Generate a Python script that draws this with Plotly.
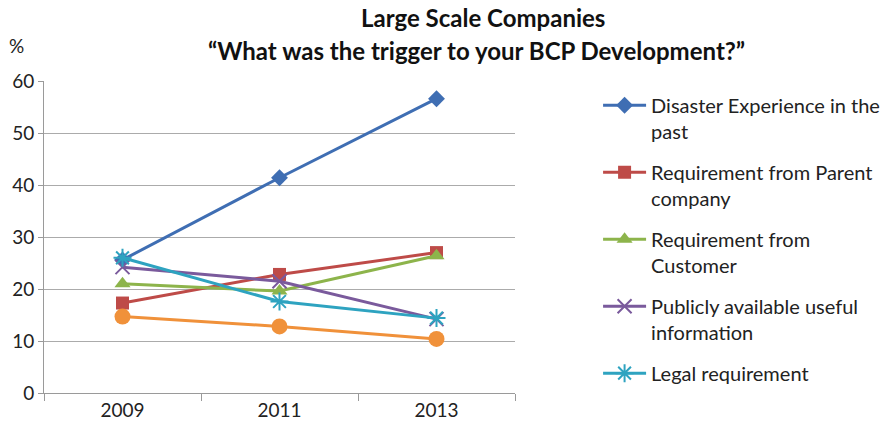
import plotly.graph_objects as go

years = ["2009", "2011", "2013"]

disaster_experience = [25.6, 41.4, 56.6]
parent_company = [17.3, 22.8, 27.0]
customer = [21.0, 19.6, 26.4]
public_information = [24.2, 21.5, 14.2]
legal_requirement = [26.0, 17.6, 14.4]
other_trigger = [14.7, 12.8, 10.4]

title_lines = ["Large Scale Companies", "“What was the trigger to your BCP Development?”"]

series = [
    ("Disaster Experience in the<br>past", disaster_experience, "#3F6EB3", "diamond", 13, True),
    ("Requirement from Parent<br>company", parent_company, "#BE4B48", "square", 13, True),
    ("Requirement from<br>Customer", customer, "#8DB44B", "triangle-up", 14, True),
    ("Publicly available useful<br>information", public_information, "#7A5A9C", "x-thin-open", 14, True),
    ("Legal requirement", legal_requirement, "#2EA3C0", "asterisk-open", 15, True),
    ("Other", other_trigger, "#F0913A", "circle", 16, False),
]

fig = go.Figure()
for i, (name, vals, color, symbol, size, in_legend) in enumerate(series):
    open_sym = symbol.endswith("open")
    fig.add_trace(go.Scatter(
        x=years, y=vals, name=name, mode="lines+markers",
        line=dict(color=color, width=3),
        marker=dict(symbol=symbol, size=size, color=color,
                    line=dict(color=color, width=2 if open_sym else 0)),
        showlegend=in_legend, legendgroup=f"g{i}",
    ))

font_family = "Lato, 'Open Sans', sans-serif"

fig.update_layout(
    width=890, height=435,
    margin=dict(l=42, r=375, t=81, b=42),
    paper_bgcolor="white", plot_bgcolor="white",
    font=dict(family=font_family, size=19, color="#222222"),
    xaxis=dict(
        type="category", showline=True, linecolor="#9A9A9A", linewidth=1,
        ticks="outside", tickson="boundaries", ticklen=7, tickcolor="#9A9A9A",
        showgrid=False, range=[-0.5, 2.5], tickfont=dict(size=19),
    ),
    yaxis=dict(
        range=[0, 60], dtick=10, showline=True, linecolor="#9A9A9A", linewidth=1,
        ticks="outside", ticklen=5, tickcolor="#9A9A9A",
        showgrid=True, gridcolor="#ABABAB", gridwidth=1,
        zeroline=False, tickfont=dict(size=19),
    ),
    legend=dict(
        x=0.672, xref="container", y=0.803, yref="container",
        xanchor="left", yanchor="top", maxheight=420,
        font=dict(size=20), tracegroupgap=12, itemwidth=43, valign="top",
        bgcolor="rgba(0,0,0,0)",
    ),
    annotations=[
        dict(text=f"<b>{title_lines[0]}</b>", x=0.9324, y=1.202, xref="paper", yref="paper",
             xanchor="center", yanchor="middle", showarrow=False,
             font=dict(size=24, color="#111111")),
        dict(text=f"<b>{title_lines[1]}</b>", x=0.9175, y=1.099, xref="paper", yref="paper",
             xanchor="center", yanchor="middle", showarrow=False,
             font=dict(size=24, color="#111111")),
        dict(text="%", x=-0.058, y=1.115, xref="paper", yref="paper",
             xanchor="center", yanchor="middle", showarrow=False, font=dict(size=19)),
    ],
)

fig.write_html("out.html")
